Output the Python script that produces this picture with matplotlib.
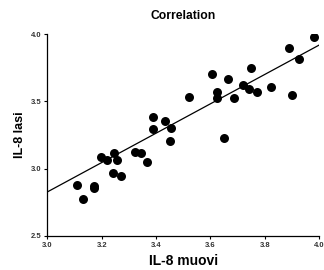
import numpy as np
import matplotlib
matplotlib.use("Agg")
import matplotlib.pyplot as plt

plt.rcParams['font.family'] = ['Liberation Sans', 'DejaVu Sans']

il8_muovi = [3.98, 3.89, 3.925, 3.90, 3.823, 3.749, 3.72, 3.742, 3.77, 3.686,
             3.665, 3.607, 3.626, 3.624, 3.521, 3.39, 3.39, 3.433, 3.454, 3.45,
             3.649, 3.198, 3.218, 3.245, 3.255, 3.323, 3.345, 3.368, 3.243, 3.272,
             3.108, 3.172, 3.172, 3.132]
il8_lasi = [3.976, 3.896, 3.817, 3.55, 3.605, 3.746, 3.62, 3.59, 3.568, 3.528,
            3.665, 3.704, 3.568, 3.526, 3.533, 3.385, 3.296, 3.356, 3.30, 3.207,
            3.227, 3.087, 3.062, 3.116, 3.062, 3.121, 3.116, 3.052, 2.968, 2.943,
            2.879, 2.869, 2.854, 2.776]
# regression line as drawn in the reference
fit_x = [3.0, 4.0]
fit_y = [2.827, 3.918]
x_ticks = [3.0, 3.2, 3.4, 3.6, 3.8, 4.0]
y_ticks = [2.5, 3.0, 3.5, 4.0]
title = "Correlation"
xlabel = "IL-8 muovi"
ylabel = "IL-8 lasi"

fig = plt.figure(figsize=(3.24, 2.70), dpi=100)
ax = fig.add_axes([0.146, 0.126, 0.839, 0.748])

ax.scatter(il8_muovi, il8_lasi, s=42, color='black', zorder=3, linewidths=0)
ax.plot(fit_x, fit_y, color='black', lw=0.9, zorder=2)

ax.set_xlim(3.0, 4.0)
ax.set_ylim(2.5, 4.0)
ax.set_xticks(x_ticks)
ax.set_yticks(y_ticks)
ax.set_xticklabels([f"{v:.1f}" for v in x_ticks])
ax.set_yticklabels([f"{v:.1f}" for v in y_ticks])
for s in ['top', 'right']:
    ax.spines[s].set_visible(False)
for s in ['left', 'bottom']:
    ax.spines[s].set_linewidth(0.9)
ax.tick_params(axis='both', direction='out', length=2.5, width=0.8,
               labelsize=5.5, labelcolor='#333333', pad=1.5)
for lab in ax.get_xticklabels() + ax.get_yticklabels():
    lab.set_fontweight('bold')

ax.set_title(title, fontsize=8.7, fontweight='bold', pad=11)
ax.set_xlabel(xlabel, fontsize=10, fontweight='bold', labelpad=4)
ax.set_ylabel(ylabel, fontsize=9, fontweight='bold', labelpad=4)

fig.savefig("out.png", dpi=100)
